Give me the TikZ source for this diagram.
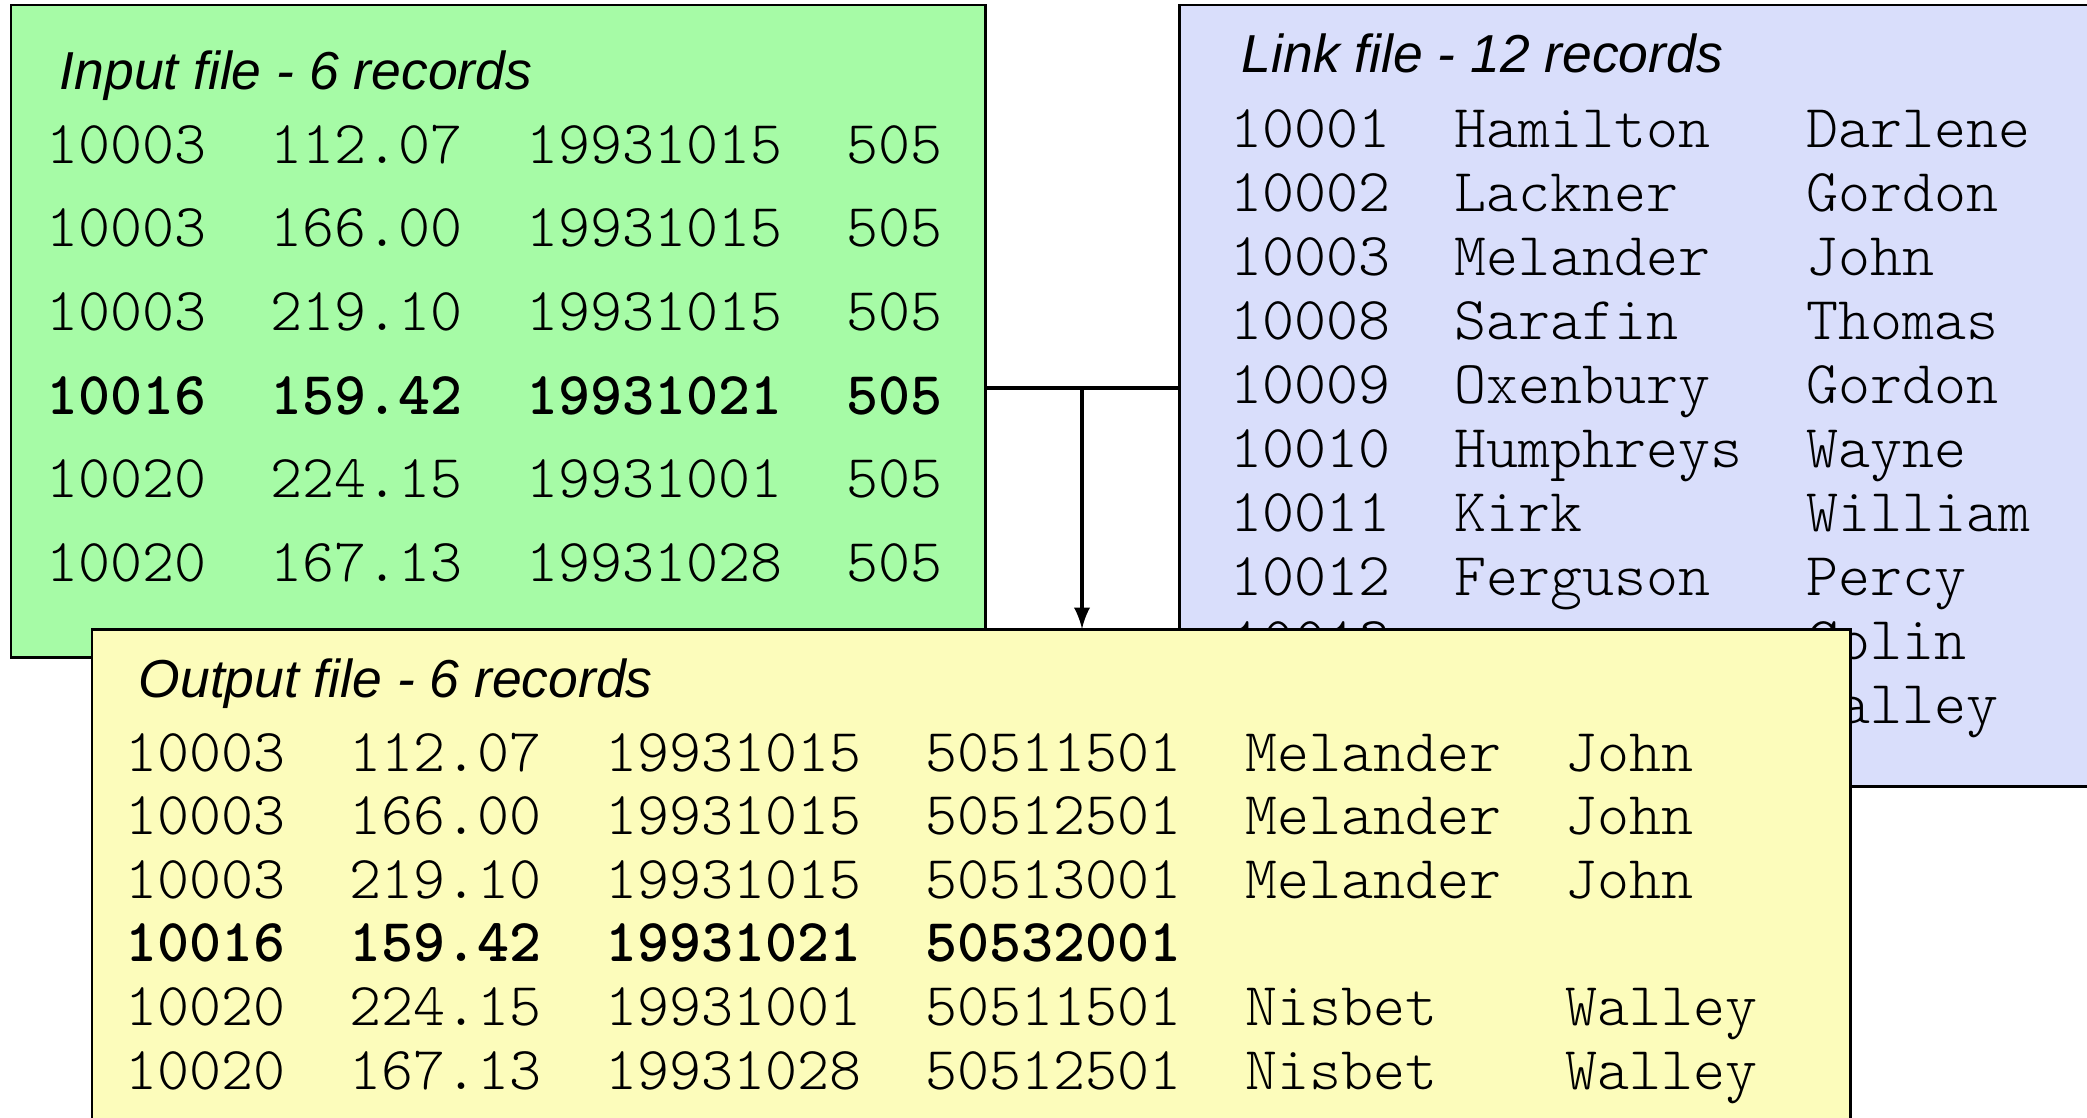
\documentclass[tikz,border=0pt]{standalone}
\usepackage{fontspec}
\setmainfont{Liberation Sans}
\setmonofont{Latin Modern Mono Light}
\usetikzlibrary{positioning}

\definecolor{inputgreen}{RGB}{166,251,166}
\definecolor{linkblue}{RGB}{217,222,251}
\definecolor{outputyellow}{RGB}{252,252,187}

\tikzset{
    filebox/.style={draw, line width=0.85pt, inner sep=0pt, outer sep=0pt, anchor=north west},
    filetitle/.style={anchor=base west, inner sep=0pt, font=\fontsize{15.2}{18}\selectfont\itshape},
    recline/.style={anchor=base west, inner sep=0pt, font=\fontsize{17.33}{20}\selectfont\ttfamily},
}

\begin{document}
\begin{tikzpicture}[x=0.01cm, y=-0.01cm]

\useasboundingbox (0,0) rectangle (2087,1118);
\clip (0,0) rectangle (2087,1118);

% input file
\node[filebox, fill=inputgreen, minimum width=9.74cm, minimum height=6.52cm] (input) at (11,5) {};
\node[filetitle] (input-title) at (59,89) {Input file - 6 records};
\foreach \r/\txt in {0/{10003~~112.07~~19931015~~505},
                     1/{10003~~166.00~~19931015~~505},
                     2/{10003~~219.10~~19931015~~505},
                     3/{\bfseries 10016~~159.42~~19931021~~505},
                     4/{10020~~224.15~~19931001~~505},
                     5/{10020~~167.13~~19931028~~505}} {
    \node[recline] (in-\r) at (46,163+83.7*\r) {\txt};
}

% link file
\node[filebox, fill=linkblue, minimum width=9.4cm, minimum height=7.81cm] (link) at (1179,5) {};
\node[filetitle] (link-title) at (1241,73) {Link file - 12 records};
\foreach \r/\txt in {0/{10001~~Hamilton~~~Darlene},
                     1/{10002~~Lackner~~~~Gordon},
                     2/{10003~~Melander~~~John},
                     3/{10008~~Sarafin~~~~Thomas},
                     4/{10009~~Oxenbury~~~Gordon},
                     5/{10010~~Humphreys~~Wayne},
                     6/{10011~~Kirk~~~~~~~William},
                     7/{10012~~Ferguson~~~Percy},
                     8/{10013~~~~~~~~~~~~~Colin},
                     9/{10020~~Nisbet~~~~~Walley}} {
    \node[recline] (lk-\r) at (1230,147+64*\r) {\txt};
}

% match on the key
\coordinate (join) at (1082,388);
\draw[line width=1.1pt] (input.east |- join) -- (link.west |- join);

% output file
\node[filebox, fill=outputyellow, minimum width=17.57cm, minimum height=5.2cm] (output) at (92,629) {};
\node[filetitle] (output-title) at (138,697) {Output file - 6 records};
\foreach \r/\txt in {0/{10003~~112.07~~19931015~~50511501~~Melander~~John},
                     1/{10003~~166.00~~19931015~~50512501~~Melander~~John},
                     2/{10003~~219.10~~19931015~~50513001~~Melander~~John},
                     3/{\bfseries 10016~~159.42~~19931021~~50532001},
                     4/{10020~~224.15~~19931001~~50511501~~Nisbet~~~~Walley},
                     5/{10020~~167.13~~19931028~~50512501~~Nisbet~~~~Walley}} {
    \node[recline] (out-\r) at (125,771+63.6*\r) {\txt};
}

\draw[line width=1.1pt, -latex] (join) -- (join |- output.north);

\end{tikzpicture}
\end{document}
